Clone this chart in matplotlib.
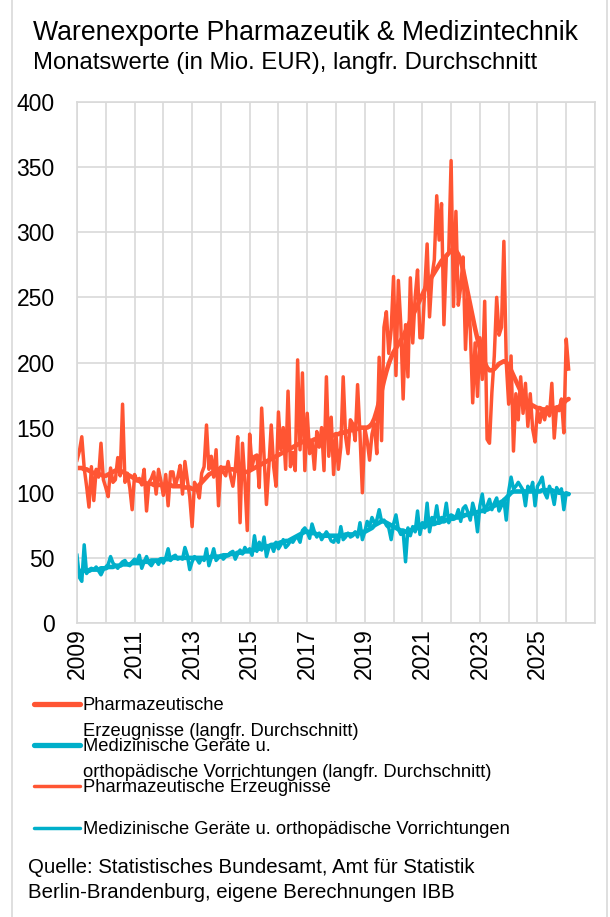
import numpy as np
import matplotlib
matplotlib.use("Agg")
import matplotlib.pyplot as plt
from matplotlib.lines import Line2D

plt.rcParams['font.family'] = ['Liberation Sans', 'DejaVu Sans']

'''
Data: monthly values Jan 2009 - Feb 2026 (Mio. EUR)
'''

pharma = [
    125, 132, 143, 119, 105, 89, 120, 94, 118, 112, 138, 110,   # 2009
    104, 97, 119, 108, 110, 127, 113, 168, 108, 115, 104, 87,   # 2010
    114, 109, 111, 106, 118, 86, 108, 111, 116, 99, 118, 109,   # 2011
    98, 114, 90, 116, 116, 105, 112, 121, 99, 124, 110, 97,     # 2012
    74, 108, 103, 96, 115, 120, 152, 118, 128, 112, 133, 90,    # 2013
    120, 116, 113, 124, 113, 105, 118, 143, 77, 138, 109, 71,   # 2014
    145, 120, 128, 129, 104, 165, 128, 91, 120, 152, 120, 105,  # 2015
    162, 133, 150, 118, 178, 120, 131, 117, 202, 133, 192, 117, # 2016
    161, 130, 140, 118, 147, 135, 150, 117, 189, 128, 158, 114, # 2017
    145, 118, 135, 189, 143, 130, 156, 153, 140, 183, 145, 100, # 2018
    150, 140, 125, 145, 153, 130, 204, 140, 227, 239, 207, 225, # 2019
    266, 190, 263, 230, 172, 229, 189, 265, 215, 250, 271, 219, # 2020
    219, 256, 291, 235, 266, 279, 328, 294, 322, 229, 281, 284, # 2021
    355, 243, 316, 244, 258, 281, 210, 252, 225, 169, 215, 174, # 2022
    219, 187, 247, 141, 138, 177, 205, 250, 221, 227, 293, 200, # 2023
    168, 205, 132, 176, 156, 189, 161, 184, 151, 176, 149, 139, # 2024
    164, 154, 164, 156, 166, 159, 184, 142, 166, 163, 172, 146, # 2025
    218, 195,                                                   # 2026
]

pharma_trend = [
    119, 119, 119, 118, 118, 117, 116, 115, 115, 114, 114, 113,
    113, 114, 115, 116, 117, 117, 117, 116, 115, 114, 113, 112,
    111, 110, 109, 108, 108, 107, 107, 107, 106, 106, 106, 106,
    106, 106, 106, 106, 105, 105, 105, 105, 105, 104, 104, 104,
    103, 103, 104, 106, 108, 110, 112, 114, 115, 116, 117, 118,
    119, 119, 119, 118, 118, 118, 117, 117, 117, 116, 116, 116,
    117, 118, 119, 120, 121, 122, 123, 124, 125, 126, 127, 128,
    129, 130, 131, 132, 133, 134, 135, 136, 137, 138, 139, 140,
    140, 140, 140, 141, 141, 141, 142, 142, 143, 143, 144, 144,
    145, 145, 146, 146, 147, 147, 148, 148, 149, 149, 150, 150,
    150, 150, 151, 153, 157, 163, 170, 178, 186, 193, 199, 204,
    208, 211, 214, 217, 220, 224, 228, 232, 236, 240, 244, 248,
    252, 256, 260, 263, 266, 269, 272, 275, 278, 280, 282, 284,
    286, 287, 286, 283, 278, 271, 262, 253, 244, 235, 226, 218,
    211, 205, 200, 196, 194, 194, 195, 197, 199, 200, 201, 200,
    198, 194, 190, 186, 182, 178, 175, 172, 170, 168, 167, 166,
    165, 165, 164, 164, 164, 164, 164, 165, 165, 166, 167, 169,
    171, 172,
]

medtech = [
    52, 35, 32, 60, 38, 41, 42, 41, 43, 40, 37, 41,
    43, 45, 51, 46, 44, 42, 45, 47, 48, 45, 44, 47,
    49, 47, 52, 42, 47, 51, 46, 44, 47, 48, 45, 49,
    46, 50, 57, 48, 51, 52, 49, 50, 49, 58, 52, 41,
    47, 51, 49, 46, 50, 48, 57, 44, 50, 57, 48, 50,
    52, 49, 51, 52, 54, 55, 49, 53, 56, 53, 58, 55,
    57, 52, 67, 55, 62, 56, 66, 51, 58, 60, 55, 62,
    57, 60, 64, 58, 60, 63, 62, 65, 66, 62, 71, 73,
    70, 65, 76, 70, 66, 69, 64, 67, 70, 67, 63, 62,
    66, 62, 74, 64, 66, 69, 66, 67, 70, 66, 77, 64,
    70, 78, 74, 81, 77, 79, 87, 78, 79, 75, 73, 64,
    76, 83, 72, 68, 70, 47, 73, 67, 74, 70, 86, 68,
    77, 73, 92, 70, 81, 78, 90, 77, 81, 80, 92, 77,
    83, 82, 81, 87, 78, 88, 90, 85, 79, 92, 85, 70,
    90, 99, 85, 90, 95, 87, 92, 96, 86, 90, 95, 79,
    101, 112, 103, 105, 108, 105, 102, 90, 105, 101, 108, 90,
    105, 108, 112, 100, 96, 105, 100, 91, 104, 100, 103, 87,
    100, 99,
]

medtech_trend = [
    40, 40, 40, 40, 40, 40, 41, 41, 41, 41, 42, 42,
    42, 43, 43, 43, 44, 44, 44, 45, 45, 45, 45, 46,
    46, 46, 46, 47, 47, 47, 47, 48, 48, 48, 48, 49,
    49, 49, 49, 49, 50, 50, 50, 50, 50, 50, 50, 50,
    50, 50, 50, 50, 50, 50, 50, 50, 51, 51, 51, 51,
    51, 52, 52, 52, 53, 53, 53, 54, 54, 54, 55, 55,
    55, 56, 56, 57, 57, 58, 58, 59, 59, 60, 60, 61,
    61, 62, 62, 63, 63, 64, 65, 66, 67, 68, 69, 70,
    70, 70, 69, 69, 68, 68, 67, 67, 67, 67, 67, 67,
    67, 67, 67, 67, 68, 68, 68, 68, 69, 69, 69, 70,
    70, 71, 72, 73, 75, 76, 77, 78, 78, 77, 76, 75,
    74, 73, 72, 71, 71, 70, 71, 71, 72, 72, 73, 73,
    74, 74, 75, 75, 76, 76, 77, 77, 78, 78, 79, 79,
    80, 80, 81, 81, 82, 82, 83, 83, 84, 84, 85, 85,
    86, 86, 87, 87, 88, 89, 90, 91, 92, 93, 94, 96,
    98, 100, 101, 101, 101, 101, 101, 101, 101, 101, 101, 101,
    101, 101, 102, 102, 102, 102, 102, 101, 101, 100, 100, 99,
    99, 99,
]

labels = [
    "Pharmazeutische\nErzeugnisse (langfr. Durchschnitt)",
    "Medizinische Geräte u.\northopädische Vorrichtungen (langfr. Durchschnitt)",
    "Pharmazeutische Erzeugnisse",
    "Medizinische Geräte u. orthopädische Vorrichtungen",
]

orange = '#FF5533'
cyan = '#00AFCA'
grid_col = '#D9D9D9'

# time axis (decimal years)
t = 2009 + np.arange(len(pharma)) / 12

fig = plt.figure(figsize=(6.1, 9.17), dpi=100)
ax = fig.add_axes([77/610, 1-623/917, (595-77)/610, (623-102)/917])

ax.plot(t, pharma_trend, color=orange, lw=3.3, solid_capstyle='round', solid_joinstyle='round')
ax.plot(t, medtech_trend, color=cyan, lw=3.3, solid_capstyle='round', solid_joinstyle='round')
ax.plot(t, pharma, color=orange, lw=2.5, solid_joinstyle='round')
ax.plot(t, medtech, color=cyan, lw=2.5, solid_joinstyle='round')

ax.set_xlim(2009, 2027)
ax.set_ylim(0, 400)
ax.set_yticks(np.arange(0, 401, 50))
years = np.arange(2009, 2028)
ax.set_xticks(years)
ax.set_xticklabels([str(y) if (y % 2 == 1 and y < 2027) else '' for y in years], rotation=90)
ax.grid(True, color=grid_col, lw=1.2)
ax.set_axisbelow(True)
for s in ax.spines.values():
    s.set_color(grid_col)
    s.set_linewidth(1.2)
ax.tick_params(axis='both', length=0, labelsize=16.5)
ax.tick_params(axis='y', pad=16)
ax.tick_params(axis='x', pad=4)

# titles
fig.text(33/610, 1-33/917, "Warenexporte Pharmazeutik & Medizintechnik", fontsize=19.2, va='center', ha='left')
fig.text(33/610, 1-63/917, "Monatswerte (in Mio. EUR), langfr. Durchschnitt", fontsize=17.2, va='center', ha='left')

# legend drawn by hand
leg_rows = [(704, 3.8, orange), (745, 3.8, cyan), (786, 2.5, orange), (828, 2.5, cyan)]
for (ypx, lw, col), lab in zip(leg_rows, labels):
    yf = 1 - ypx/917
    fig.add_artist(Line2D([34/610, 80/610], [yf, yf], color=col, lw=lw, solid_capstyle='round'))
    fig.text(83/610, yf + 7/917, lab, fontsize=13.2, va='top', ha='left', linespacing=1.72)

fig.text(28/610, 1-880/917, "Quelle: Statistisches Bundesamt, Amt für Statistik\nBerlin-Brandenburg, eigene Berechnungen IBB",
         fontsize=14.7, va='center', ha='left', linespacing=1.45)

# chart frame
fig.add_artist(Line2D([12/610, 12/610], [0, 1], color=grid_col, lw=1.2))
fig.add_artist(Line2D([607/610, 607/610], [0, 1], color=grid_col, lw=1.2))

fig.savefig("out.png", dpi=100)
